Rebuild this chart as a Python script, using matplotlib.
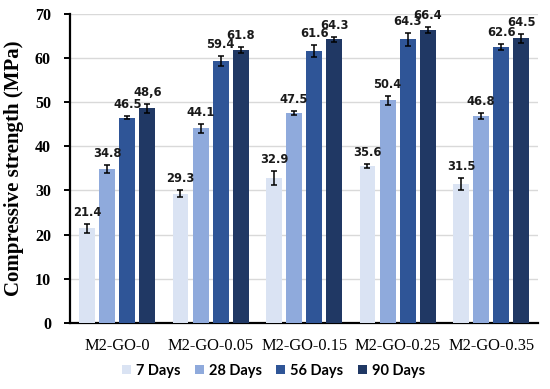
import matplotlib
matplotlib.use("Agg")
from matplotlib import pyplot as plt
import numpy as np

# data
mixes = ["M2-GO-0", "M2-GO-0.05", "M2-GO-0.15", "M2-GO-0.25", "M2-GO-0.35"]
ages = ["7 Days", "28 Days", "56 Days", "90 Days"]

days_7 = [21.4, 29.3, 32.9, 35.6, 31.5]
days_28 = [34.8, 44.1, 47.5, 50.4, 46.8]
days_56 = [46.5, 59.4, 61.6, 64.3, 62.6]
days_90 = [48.6, 61.8, 64.3, 66.4, 64.5]

err_7 = [1.0, 0.8, 1.6, 0.5, 1.3]
err_28 = [0.9, 1.0, 0.5, 1.1, 0.7]
err_56 = [0.4, 1.1, 1.3, 1.5, 0.7]
err_90 = [1.1, 0.7, 0.6, 0.7, 1.0]

# labels as printed (note the comma in 48,6)
labels_7 = ["21.4", "29.3", "32.9", "35.6", "31.5"]
labels_28 = ["34.8", "44.1", "47.5", "50.4", "46.8"]
labels_56 = ["46.5", "59.4", "61.6", "64.3", "62.6"]
labels_90 = ["48,6", "61.8", "64.3", "66.4", "64.5"]

colors = ["#dae3f3", "#8faadc", "#2f5597", "#203864"]

series = [days_7, days_28, days_56, days_90]
errors = [err_7, err_28, err_56, err_90]
labels = [labels_7, labels_28, labels_56, labels_90]

fig, ax = plt.subplots(figsize=(5.5, 3.89), dpi=100)
fig.subplots_adjust(left=0.128, right=0.978, top=0.964, bottom=0.17)

x = np.arange(len(mixes))
width = 0.17
step = 0.215
offsets = (np.arange(4) - 1.5) * step

for i in range(4):
    ax.bar(x + offsets[i], series[i], width, color=colors[i], label=ages[i], zorder=3)
    ax.errorbar(x + offsets[i], series[i], yerr=errors[i], fmt="none",
                ecolor="black", elinewidth=1.1, capsize=2.5, capthick=1.1, zorder=4)
    for j in range(len(mixes)):
        ax.text(x[j] + offsets[i], series[i][j] + errors[i][j] + 1.1, labels[i][j],
                ha="center", va="bottom", fontsize=8.3, fontweight="bold",
                family="DejaVu Sans", color="#1a1a1a", zorder=5)

ax.set_ylim(0, 70)
ax.set_xlim(-0.5, 4.5)
ax.set_yticks(range(0, 71, 10))
ax.set_xticks(x)
ax.set_xticklabels(mixes, family="Liberation Serif", fontsize=11.8)
for t in ax.get_yticklabels():
    t.set_family("Liberation Serif")
    t.set_fontweight("bold")
    t.set_fontsize(11.5)
ax.set_ylabel("Compressive strength (MPa)", family="Liberation Serif",
              fontweight="bold", fontsize=15, labelpad=8)

ax.grid(axis="y", color="#d9d9d9", linewidth=1, zorder=0)
ax.spines["top"].set_visible(False)
ax.spines["right"].set_visible(False)
ax.spines["left"].set_linewidth(1.6)
ax.spines["bottom"].set_linewidth(1.6)
ax.tick_params(axis="x", length=0, pad=11)
ax.tick_params(axis="y", length=4, width=1.4, direction="out", pad=10)

leg = fig.legend(loc="lower center", ncol=4, frameon=False, bbox_to_anchor=(0.497, -0.005),
                 prop={"family": "Lato", "size": 10.5, "weight": "bold"},
                 handlelength=0.6, handleheight=0.6, handletextpad=0.35, columnspacing=1.0)

plt.savefig("out.png", dpi=100)
